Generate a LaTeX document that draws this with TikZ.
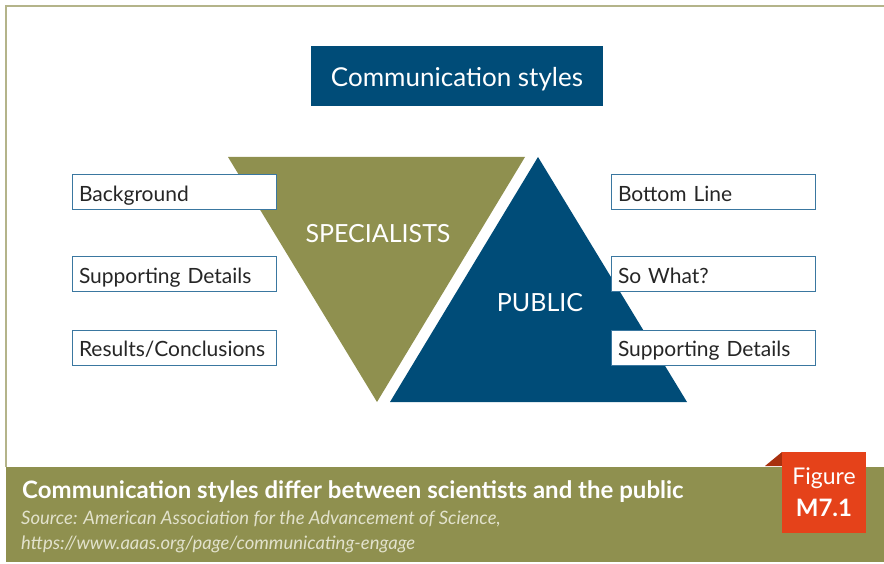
\documentclass[tikz,border=0pt]{standalone}
\usepackage{fontspec}
\setmainfont{Lato}
\definecolor{olive}{HTML}{8F904F}
\definecolor{navy}{HTML}{004C78}
\definecolor{frame}{HTML}{B4B48A}
\definecolor{boxline}{HTML}{3A77A0}
\definecolor{tag}{HTML}{E5421A}
\definecolor{tagdark}{HTML}{A8300E}
\definecolor{srcgray}{HTML}{E2E2CC}
\begin{document}
\begin{tikzpicture}[x=1pt,y=-1pt,
  itembox/.style={draw=boxline, line width=1pt, fill=white, minimum width=204pt, minimum height=35pt,
    text width=190pt, inner xsep=7pt, inner ysep=0pt, align=left, text height=21pt, text depth=3pt,
    font=\fontsize{21}{24}\selectfont, text=black!85},
  tri/.style={font=\fontsize{25}{28}\selectfont, text=white},
  captext/.style={anchor=west, inner sep=0pt}]
\useasboundingbox (0,0) rectangle (884,564);
% frame
\draw[frame, line width=2pt] (6,467) -- (6,6) -- (884,6);
% title
\node[fill=navy, minimum width=292pt, minimum height=60pt, text height=24pt, text depth=3.2pt, inner ysep=0pt, text=white, font=\fontsize{26}{30}\selectfont] (title) at (457,76) {Communication styles};
% triangles
\coordinate (g1) at (228,157); \coordinate (g2) at (525,157); \coordinate (g3) at (377,402);
\coordinate (b1) at (538,157); \coordinate (b2) at (390,402); \coordinate (b3) at (687,402);
\fill[olive] (g1) -- (g2) -- (g3) -- cycle;
\fill[navy] (b1) -- (b2) -- (b3) -- cycle;
\node[tri] (spec) at (378,234) {SPECIALISTS};
\node[tri] (pub) at (540,303) {PUBLIC};
% boxes
\node[itembox] (l1) at (174,192.5) {Background};
\node[itembox] (l2) at (174,274.5) {Supporting Details};
\node[itembox] (l3) at (174,347.5) {Results/Conclusions};
\node[itembox] (r1) at (713,192.5) {Bottom Line};
\node[itembox] (r2) at (713,274.5) {So What?};
\node[itembox] (r3) at (713,347.5) {Supporting Details};
% bottom band
\fill[olive] (6,467) rectangle (884,562);
\node[captext, text=white, font=\bfseries\fontsize{24}{28}\selectfont] (cap) at (22,492) {Communication styles differ between scientists and the public};
\node[captext, text=srcgray, font=\itshape\fontsize{18.5}{22}\selectfont] (src1) at (21,519) {Source: American Association for the Advancement of Science,};
\node[captext, text=srcgray, font=\itshape\fontsize{18.5}{22}\selectfont] (src2) at (21,544) {https://www.aaas.org/page/communicating-engage};
% figure tag
\fill[tagdark] (765,466) -- (782,452) -- (782,466) -- cycle;
\fill[tag] (782,452) rectangle (866,533);
\node[text=white, font=\fontsize{23}{26}\selectfont] (fig) at (824,478) {Figure};
\node[text=white, font=\bfseries\fontsize{24}{26}\selectfont] (num) at (824,508) {M7.1};
\end{tikzpicture}
\end{document}
